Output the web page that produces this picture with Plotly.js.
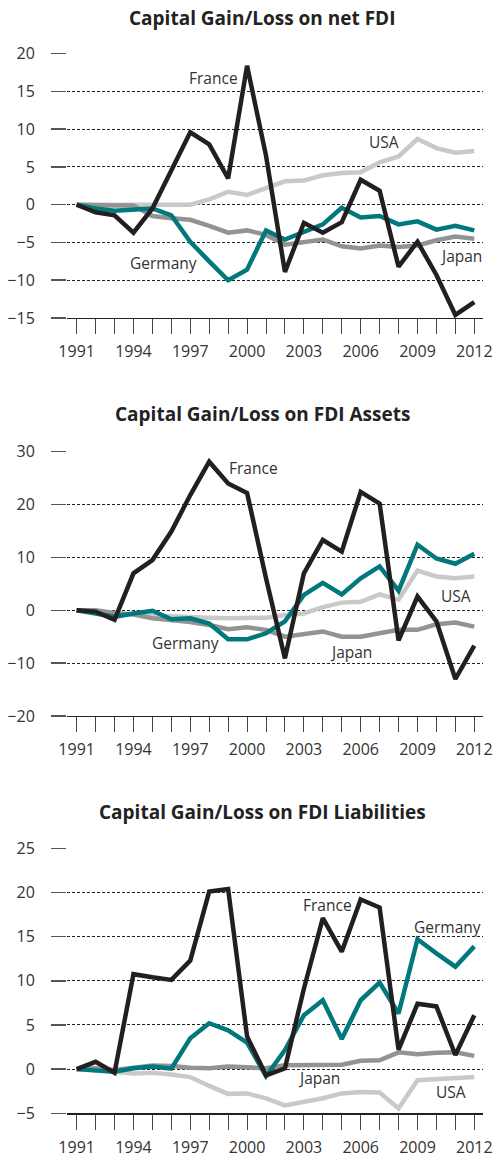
<!DOCTYPE html>
<html>
<head>
<meta charset="utf-8">
<script src="https://cdn.plot.ly/plotly-3.0.1.min.js"></script>
<style>html,body{margin:0;padding:0;background:#fff}#chart{width:494px;height:1157px}</style>
</head>
<body>
<div id="chart"></div>
<script>
const years = [1991,1992,1993,1994,1995,1996,1997,1998,1999,2000,2001,2002,2003,2004,2005,2006,2007,2008,2009,2010,2011,2012];

const panelTitles = ["Capital Gain/Loss on net FDI", "Capital Gain/Loss on FDI Assets", "Capital Gain/Loss on FDI Liabilities"];
const countries = ["USA", "Japan", "Germany", "France"];

// Panel 1: net FDI
const netUSA     = [0,0,0,0,0,0,0,0.7,1.7,1.3,2.2,3.1,3.2,3.9,4.2,4.3,5.6,6.4,8.7,7.5,6.9,7.1];
const netJapan   = [0,-0.1,-0.1,-0.1,-1.5,-1.8,-2.0,-2.8,-3.7,-3.4,-4.0,-5.3,-5.0,-4.6,-5.5,-5.8,-5.4,-5.6,-5.4,-4.7,-4.2,-4.5];
const netGermany = [0,-0.5,-0.8,-0.6,-0.5,-1.4,-4.9,-7.5,-10.0,-8.6,-3.4,-4.6,-3.6,-2.6,-0.4,-1.7,-1.5,-2.6,-2.2,-3.3,-2.8,-3.4];
const netFrance  = [0,-1.0,-1.4,-3.7,-0.5,4.5,9.6,8.0,3.5,18.4,6.5,-8.9,-2.4,-3.7,-2.3,3.3,1.85,-8.2,-4.9,-9.3,-14.6,-12.9];

// Panel 2: FDI assets
const assetUSA     = [0,-0.3,-1.3,-0.6,-1.0,-1.2,-1.3,-1.4,-1.5,-1.5,-1.4,-0.9,-0.6,0.6,1.45,1.6,3.0,2.0,7.5,6.4,6.05,6.4];
const assetJapan   = [0,0,-0.5,-0.8,-1.5,-1.8,-2.2,-2.8,-3.6,-3.2,-3.7,-5.0,-4.5,-4.0,-5.0,-5.0,-4.35,-3.7,-3.7,-2.65,-2.3,-3.1];
const assetGermany = [0,-0.5,-1.2,-0.6,-0.1,-1.7,-1.5,-2.5,-5.5,-5.5,-4.35,-2.1,2.9,5.2,3.0,6.05,8.3,3.7,12.4,9.8,8.8,10.7];
const assetFrance  = [0,-0.25,-1.8,7.0,9.5,14.9,21.8,28.1,24.0,22.2,6.05,-9.1,7.0,13.3,11.1,22.4,20.2,-5.7,2.6,-2.1,-13.0,-6.7];

// Panel 3: FDI liabilities
const liabUSA     = [0,-0.1,-0.3,-0.5,-0.4,-0.6,-0.9,-1.9,-2.8,-2.75,-3.3,-4.1,-3.7,-3.3,-2.75,-2.6,-2.65,-4.45,-1.25,-1.1,-0.95,-0.9];
const liabJapan   = [0,0.1,-0.1,0.2,0.4,0.35,0.15,0.1,0.3,0.2,0.1,0.45,0.5,0.5,0.5,0.95,1.0,1.9,1.7,1.85,1.9,1.5];
const liabGermany = [0,-0.1,-0.3,0.1,0.3,0.05,3.5,5.2,4.4,3.0,-0.8,2.15,6.1,7.8,3.4,7.8,9.8,6.3,14.7,13.1,11.6,13.9];
const liabFrance  = [0,0.83,-0.4,10.75,10.4,10.1,12.3,20.1,20.4,3.7,-0.7,0.1,9.1,17.1,13.3,19.2,18.3,2.2,7.4,7.1,1.6,6.1];

const panelSeries = [
  [netUSA, netJapan, netGermany, netFrance],
  [assetUSA, assetJapan, assetGermany, assetFrance],
  [liabUSA, liabJapan, liabGermany, liabFrance]
];
const yRanges = [[-15, 20], [-20, 30], [-5, 25]];
const yDticks = [5, 10, 5];

// style
const colors = {USA: "#c9c9c9", Japan: "#939393", Germany: "#00787c", France: "#231f20"};
const widths = {USA: 4.5, Japan: 4.5, Germany: 4.5, France: 4.5};
const W = 494, H = 1157;
const plotLeft = 67, plotRight = 483;
const panelPx = [[53.7, 318], [451.7, 716], [848.3, 1113.3]];
const titleY = [18, 414, 812];

const FONT = "Open Sans, Noto Sans, sans-serif";
const TXT = "#333";

const traces = [];
panelSeries.forEach((ser, p) => {
  ser.forEach((vals, c) => {
    const name = countries[c];
    traces.push({
      x: years, y: vals, type: "scatter", mode: "lines", name: name,
      xaxis: p === 0 ? "x" : "x" + (p + 1),
      yaxis: p === 0 ? "y" : "y" + (p + 1),
      line: {color: colors[name], width: widths[name]},
      hoverinfo: "skip", showlegend: false
    });
  });
});

const layout = {
  width: W, height: H,
  margin: {l: 0, r: 0, t: 0, b: 0},
  paper_bgcolor: "#fff", plot_bgcolor: "rgba(0,0,0,0)",
  showlegend: false,
  font: {family: FONT, color: TXT, size: 16},
  annotations: [], shapes: []
};

for (let p = 0; p < 3; p++) {
  const sfx = p === 0 ? "" : String(p + 1);
  const [top, bot] = panelPx[p];
  layout["xaxis" + sfx] = {
    domain: [plotLeft / W, plotRight / W],
    range: [1990.49, 2012.46],
    anchor: "y" + sfx,
    showgrid: false, zeroline: false,
    showline: true, linecolor: "#222", linewidth: 1.2,
    ticks: "outside", ticklen: 15, tickwidth: 1, tickcolor: "#444",
    tick0: 1991, dtick: 3,
    minor: {tick0: 1991, dtick: 1, ticks: "outside", ticklen: 15, tickwidth: 1, tickcolor: "#444", showgrid: false},
    tickfont: {family: FONT, size: 16, color: TXT},
    ticklabelstandoff: 4,
    fixedrange: true
  };
  layout["yaxis" + sfx] = {
    domain: [1 - bot / H, 1 - top / H],
    range: yRanges[p],
    anchor: "x" + sfx,
    dtick: yDticks[p], tick0: 0,
    showgrid: true, gridcolor: "#222", gridwidth: 1, griddash: "3px,2px",
    zeroline: false, showline: false,
    ticks: "outside", ticklen: 15, tickwidth: 1.5, tickcolor: "#555",
    tickfont: {family: FONT, size: 16, color: TXT},
    ticklabelstandoff: 13,
    fixedrange: true
  };
  layout.annotations.push({
    text: "<b>" + panelTitles[p] + "</b>", xref: "paper", yref: "paper",
    x: 262 / W, y: 1 - titleY[p] / H, xanchor: "center", yanchor: "middle",
    showarrow: false, font: {family: FONT, size: 19, color: "#222"}
  });
}

// series labels
const labels = [
  {t: "France", p: 0, x: 213, y: 78},
  {t: "Germany", p: 0, x: 163, y: 263},
  {t: "USA", p: 0, x: 384, y: 142},
  {t: "Japan", p: 0, x: 461, y: 256},
  {t: "France", p: 1, x: 254, y: 468},
  {t: "Germany", p: 1, x: 185, y: 643},
  {t: "USA", p: 1, x: 456, y: 596},
  {t: "Japan", p: 1, x: 351, y: 652},
  {t: "France", p: 2, x: 327, y: 905},
  {t: "Germany", p: 2, x: 447, y: 927},
  {t: "Japan", p: 2, x: 319, y: 1078},
  {t: "USA", p: 2, x: 451, y: 1092}
];
labels.forEach(l => {
  layout.annotations.push({
    text: l.t, xref: "paper", yref: "paper", x: l.x / W, y: 1 - l.y / H,
    xanchor: "center", yanchor: "middle", showarrow: false,
    font: {family: FONT, size: 15.5, color: TXT}
  });
});

Plotly.newPlot("chart", traces, layout, {staticPlot: true, displayModeBar: false});
</script>
</body>
</html>
